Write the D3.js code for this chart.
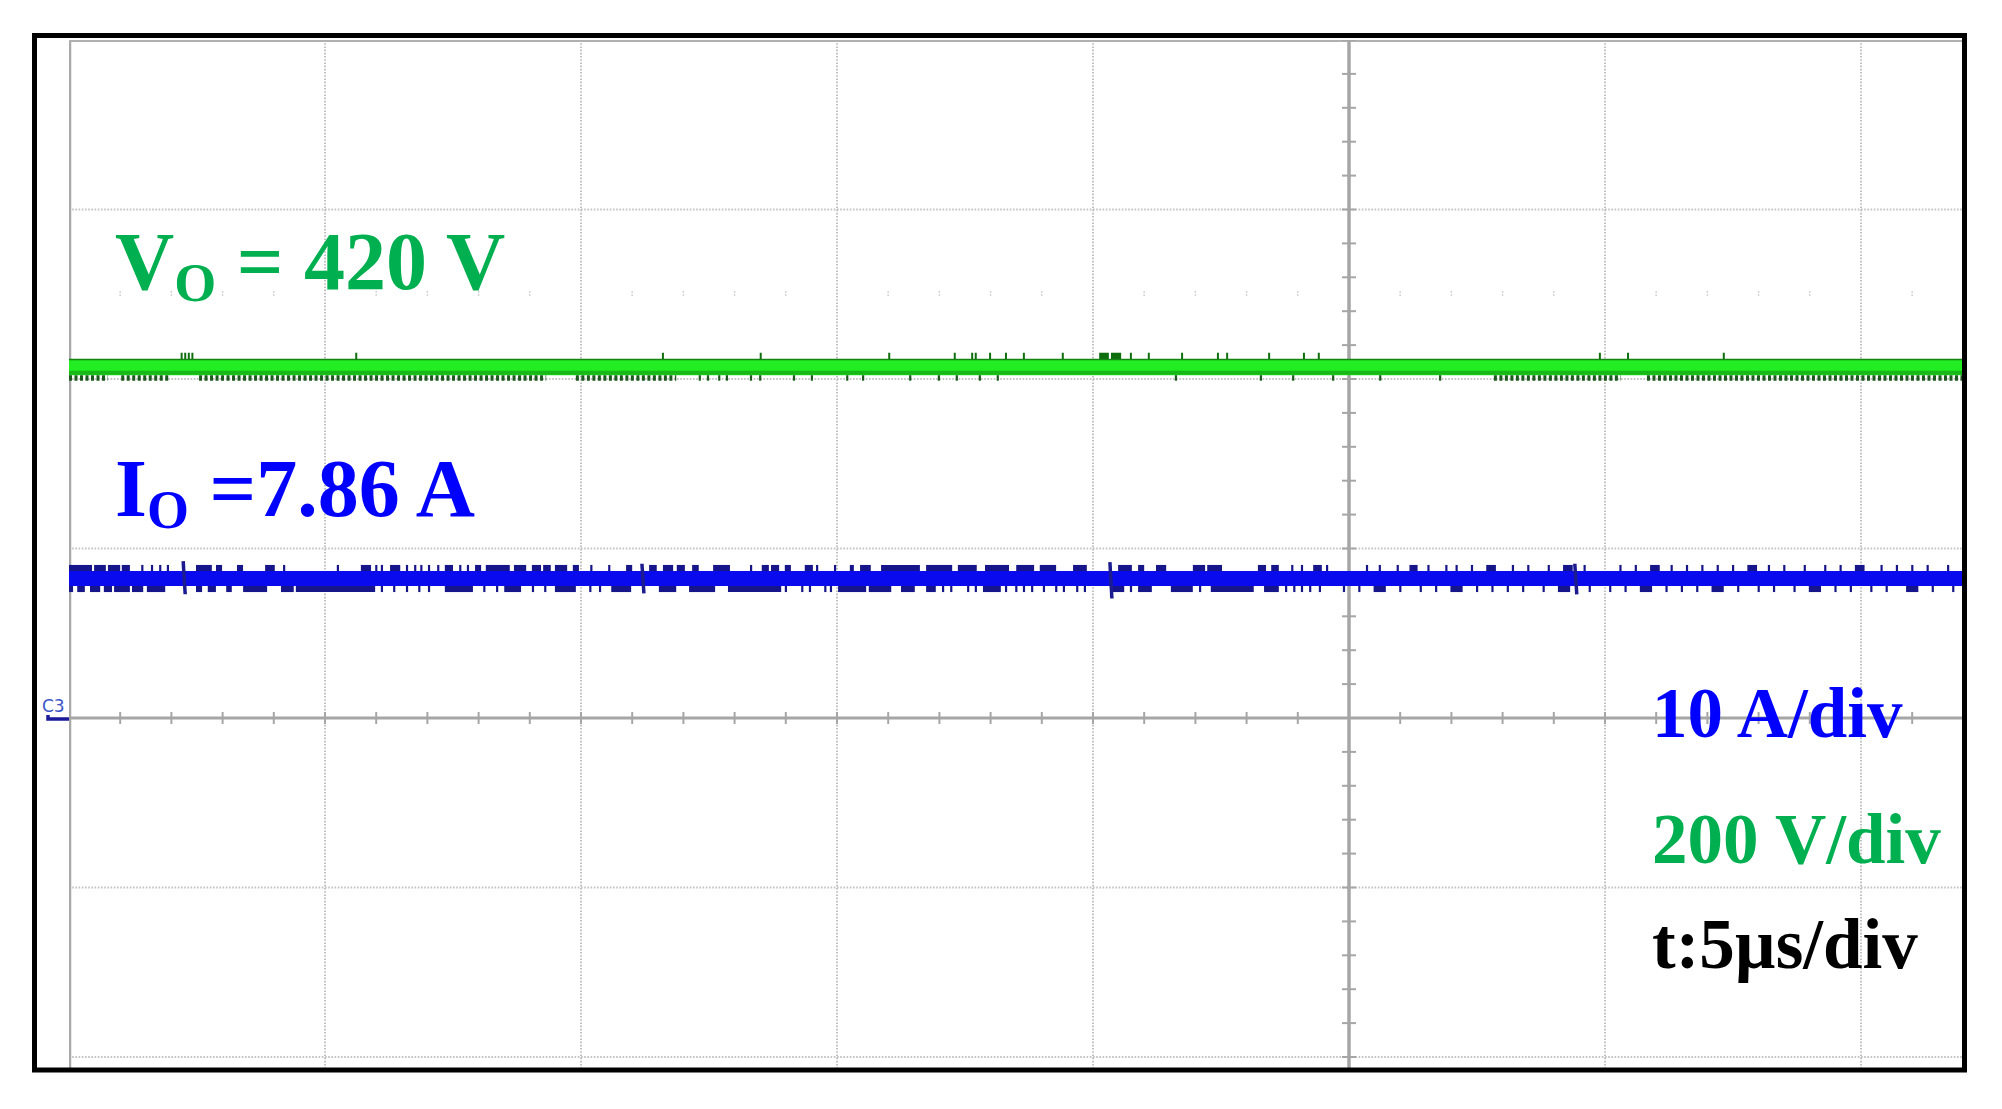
<!DOCTYPE html>
<html><head><meta charset="utf-8">
<script src="https://cdn.jsdelivr.net/npm/d3@7"></script>
<style>html,body{margin:0;padding:0;background:#fff;} svg{display:block;}</style>
</head><body>
<svg id="chart" width="2002" height="1109"></svg>
<script>
// ================= DATA =================
// Oscilloscope settings
const timePerDiv = 5;          // µs / div
const voltsPerDiv = 200;       // V / div (green channel)
const ampsPerDiv = 10;         // A / div (CH3, blue)
const timeDomain = [-25, 12];  // visible part of the record, µs
const divDomain = [-4, 4];     // vertical divisions of the screen

// Output voltage trace (green)
const voBand = [404.5, 423];          // V, core of the trace
const voSpikeLevel = 431;             // V, top of the noise spikes
const voTickLevel = 398;              // V, bottom of the noise ticks
const voSpikesUp = [-22.80, -22.73, -22.66, -22.59, -19.39, -13.40, -11.49, -8.98, -7.70, -7.36, -7.29,
  -7.01, -6.70, -6.35, -5.59, -4.26, -3.91, -3.26, -2.56, -2.38, -1.56, -0.88, -0.59, 4.90, 5.45, 7.32];
const voBlocksUp = [[-4.86, -4.71], [-4.63, -4.47]];
const voLowRows = [[-25, -24.24], [-23.98, -23.03], [-22.46, -15.68], [-15.10, -13.14], [2.83, 5.31], [5.82, 12]];
const voLowTicks = [-12.68, -12.52, -12.30, -12.15, -11.68, -11.50, -10.84, -10.49, -9.80, -9.49, -8.57,
  -8.01, -7.66, -7.21, -6.86, -3.38, -1.72, -1.09, -0.31, 0.61, 1.78];

// Output current trace (blue, CH3)
const ioBand = [7.79, 8.67];          // A, core of the trace
const ioUpLevel = 9.03;               // A
const ioLowLevel = 7.43;              // A
const ioUpSegs = [[-25, -24.57], [-24.49, -24.30], [-24.22, -24.02], [-23.95, -23.83], -23.57, -23.38, -23.22, -23.07,
  [-22.50, -22.23], [-22.11, -22.03], [-21.70, -21.62], [-21.15, -21.00], -20.80, -19.75, [-19.28, -19.12], -19.00, -18.89,
  [-18.71, -18.55], -18.40, -18.24, -18.12, -17.97, -17.79, [-17.64, -17.52], -17.36, -17.21, [-17.05, -16.97],
  [-16.84, -16.41], [-16.29, -16.09], [-15.94, -15.80], [-15.72, -15.61], [-15.49, -15.29], [-15.14, -15.06], -14.80,
  -14.45, [-14.10, -14.02], [-13.65, -13.54], [-13.38, -13.22], [-13.11, -12.99], [-12.81, -12.72], [-12.40, -12.11],
  -11.68, [-11.45, -11.35], [-11.27, -11.15], [-11.00, -10.92], [-10.61, -10.49], -10.39, -10.04, [-9.73, -9.69],
  [-9.53, -9.36], [-9.12, -8.40], [-8.24, -7.77], [-7.62, -7.29], [-7.09, -6.66], [-6.48, -6.17], [-6.02, -5.74],
  [-5.37, -5.14], [-4.49, -4.26], [-4.10, -4.02], [-3.75, -3.59], [-3.03, -2.83], [-2.75, -2.50], [-1.76, -1.64],
  [-1.50, -1.39], -1.11, -0.92, [-0.68, -0.55], -0.43, 0.35, 0.60, 0.95, [1.20, 1.32], 1.55, 1.90, 2.10, 2.40,
  [2.70, 2.85], 3.20, 3.50, 3.90, [4.20, 4.35], 4.60, 5.30, 5.60, [5.90, 6.05], 6.30, 6.60, 6.90, 7.20, 7.50,
  [7.80, 7.95], 8.20, 8.50, 8.90, 9.30, 9.60, [9.90, 10.05], 10.40, 10.70, 11.00, 11.30, 11.70];
const ioLowSegs = [[-24.98, -24.94], [-24.82, -24.71], [-24.57, -24.41], [-24.30, -24.18], [-24.10, -23.83],
  [-23.75, -23.57], [-23.46, -23.14], [-22.50, -22.42], [-22.27, -22.15], [-21.91, -21.84], [-21.58, -21.15],
  [-20.84, -20.63], [-20.55, -19.04], -18.89, -18.65, -18.40, -18.16, -17.97, [-17.64, -17.13], -16.89, -16.64,
  [-16.48, -16.19], -15.94, -15.70, [-15.49, -15.12], -14.82, -14.63, [-14.39, -14.04], [-13.46, -13.16],
  [-12.87, -12.40], [-12.11, -11.11], -11.00, -10.68, -10.53, -10.23, -10.12, [-9.96, -9.45], [-9.36, -8.96],
  [-8.73, -8.50], [-8.24, -8.09], -7.93, -7.77, -7.44, -7.29, [-7.13, -6.82], -6.70, -6.50, -6.35, -6.19, -5.96,
  -5.72, -5.57, -5.31, -5.16, [-4.59, -4.41], -4.26, [-4.10, -3.87], [-3.46, -3.07], -2.91, [-2.68, -1.88],
  [-1.64, -1.39], -1.23, -1.07, -0.92, -0.76, -0.57, -0.10, 0.20, [0.50, 0.70], 1.00, 1.40, 1.70, [2.00, 2.20],
  2.50, 2.80, 3.10, 3.40, 3.80, [4.10, 4.30], 4.70, 5.10, 5.40, [5.70, 5.90], 6.20, 6.50, 6.80, [7.10, 7.30], 7.60,
  8.00, 8.30, 8.70, [9.00, 9.20], 9.50, 9.80, 10.20, 10.50, [10.90, 11.10], 11.40, 11.80];
// switching events: [time µs, max A, min A]
const ioGlitches = [[-22.77, 9.25, 7.3], [-13.81, 9.1, 7.35], [-4.67, 9.2, 7.05], [4.41, 9.1, 7.3]];

// Annotation texts
const voLabel = ["V", "O", " = 420 V"];
const ioLabel = ["I", "O", " =7.86 A"];
const scaleLabels = ["10 A/div", "200 V/div", "t:5\u00B5s/div"];
const channelTag = "C3";

// ================= DRAW =================
const svg = d3.select("#chart");
const X0 = 69, DIVX = 256, Y0 = 718, DIVY = 169.5;
const x = d3.scaleLinear().domain([-5 * timePerDiv, 5 * timePerDiv]).range([X0, X0 + 10 * DIVX]);
const yDiv = d3.scaleLinear().domain(divDomain).range([Y0 + 4 * DIVY, Y0 - 4 * DIVY]);
const yV = d3.scaleLinear().domain(divDomain.map(d => d * voltsPerDiv)).range(yDiv.range());
const yI = d3.scaleLinear().domain(divDomain.map(d => d * ampsPerDiv)).range(yDiv.range());

const plotL = x(timeDomain[0]), plotR = 1963, plotT = yDiv(4), plotB = 1068;

svg.append("rect").attr("width", 2002).attr("height", 1109).attr("fill", "#fff");
svg.append("defs").append("clipPath").attr("id", "plot")
  .append("rect").attr("x", plotL).attr("y", plotT).attr("width", plotR - plotL).attr("height", plotB - plotT);

const g = svg.append("g").attr("clip-path", "url(#plot)");

// grid: dotted division lines
const vDivs = d3.range(-5, 6).map(d => d * timePerDiv).filter(t => t !== 0 && t > timeDomain[0]);
const hDivs = d3.range(-4, 5).filter(d => d !== 0 && d < 4);
g.selectAll("line.vg").data(vDivs).join("line")
  .attr("x1", d => x(d)).attr("x2", d => x(d)).attr("y1", plotT).attr("y2", plotB)
  .attr("stroke", "#c2c2c2").attr("stroke-width", 2).attr("stroke-dasharray", "1.6 1.6");
g.selectAll("line.hg").data(hDivs).join("line")
  .attr("y1", d => yDiv(d)).attr("y2", d => yDiv(d)).attr("x1", plotL).attr("x2", plotR)
  .attr("stroke", "#c2c2c2").attr("stroke-width", 2).attr("stroke-dasharray", "1.6 1.6");

// faint marker row at 2.5 div
const minorT = d3.range(timeDomain[0] + 1, timeDomain[1] + 0.01, 1);
g.selectAll("line.mr").data(minorT.filter(t => t % 5 !== 0)).join("line")
  .attr("x1", d => x(d)).attr("x2", d => x(d)).attr("y1", yDiv(2.5) - 3).attr("y2", yDiv(2.5) + 3)
  .attr("stroke", "#c8c8c8").attr("stroke-width", 1.5).attr("stroke-dasharray", "1.5 1.5");

// edges of the screen
g.append("line").attr("x1", plotL + 1).attr("x2", plotL + 1).attr("y1", plotT).attr("y2", plotB)
  .attr("stroke", "#a9a9a9").attr("stroke-width", 2.5);
g.append("line").attr("x1", plotL).attr("x2", plotR).attr("y1", plotT + 1).attr("y2", plotT + 1)
  .attr("stroke", "#b0b0b0").attr("stroke-width", 2);

// centre axes with minor ticks
g.append("line").attr("x1", plotL).attr("x2", plotR).attr("y1", Y0).attr("y2", Y0)
  .attr("stroke", "#a6a6a6").attr("stroke-width", 3);
g.append("line").attr("x1", x(0)).attr("x2", x(0)).attr("y1", plotT).attr("y2", plotB)
  .attr("stroke", "#a6a6a6").attr("stroke-width", 3.5);
g.selectAll("line.xt").data(minorT).join("line")
  .attr("x1", d => x(d)).attr("x2", d => x(d)).attr("y1", Y0 - 6).attr("y2", Y0 + 6)
  .attr("stroke", "#a6a6a6").attr("stroke-width", 2);
const minorDiv = d3.range(-4, 4.001, 0.2);
g.selectAll("line.yt").data(minorDiv).join("line")
  .attr("y1", d => yDiv(d)).attr("y2", d => yDiv(d)).attr("x1", x(0) - 7).attr("x2", x(0) + 7)
  .attr("stroke", "#a6a6a6").attr("stroke-width", 2);

// ---- helpers for traces ----
function drawTrace(yS, band, upLevel, lowLevel, upSegs, lowSegs, fill, dark) {
  const tr = g.append("g");
  const area = d3.area().x(d => x(d)).y0(yS(band[0])).y1(yS(band[1]));
  tr.append("path").datum(timeDomain).attr("d", area).attr("fill", fill);
  const one = s => Array.isArray(s) ? s : [s, s];
  const segPath = (lvl, edge) => s => {
    const [a, b] = one(s);
    const x0 = x(a) - 1, x1 = Math.max(x(b) + 1, x0 + 2.2);
    return `M${x0},${yS(edge)}L${x0},${yS(lvl)}L${x1},${yS(lvl)}L${x1},${yS(edge)}Z`;
  };
  tr.selectAll("path.up").data(upSegs).join("path").attr("class", "up")
    .attr("d", segPath(upLevel, band[1])).attr("fill", dark);
  tr.selectAll("path.lo").data(lowSegs).join("path").attr("class", "lo")
    .attr("d", segPath(lowLevel, band[0])).attr("fill", dark);
  return tr;
}

// green trace
const gTr = drawTrace(yV, voBand, voSpikeLevel, voTickLevel, voBlocksUp, [], "#22ec22", "#0e6e0e");
gTr.selectAll("line.sp").data(voSpikesUp).join("line")
  .attr("x1", d => x(d)).attr("x2", d => x(d)).attr("y1", yV(voBand[1])).attr("y2", yV(voSpikeLevel))
  .attr("stroke", "#0e6e0e").attr("stroke-width", 2);
gTr.selectAll("line.row").data(voLowRows).join("line")
  .attr("x1", d => x(d[0])).attr("x2", d => x(d[1]))
  .attr("y1", (yV(voBand[0]) + yV(voTickLevel)) / 2).attr("y2", (yV(voBand[0]) + yV(voTickLevel)) / 2)
  .attr("stroke", "#1d5a1d").attr("stroke-width", yV(voTickLevel) - yV(voBand[0]))
  .attr("stroke-dasharray", "3 2.5");
gTr.selectAll("line.lt").data(voLowTicks).join("line")
  .attr("x1", d => x(d)).attr("x2", d => x(d)).attr("y1", yV(voBand[0])).attr("y2", yV(voTickLevel))
  .attr("stroke", "#1d5a1d").attr("stroke-width", 2.2);
gTr.append("line").attr("x1", plotL).attr("x2", plotR).attr("y1", yV(voBand[1])).attr("y2", yV(voBand[1]))
  .attr("stroke", "#138313").attr("stroke-width", 1.5);
gTr.append("line").attr("x1", plotL).attr("x2", plotR).attr("y1", yV(voBand[0]) - 2.5).attr("y2", yV(voBand[0]) - 2.5)
  .attr("stroke", "#17b817").attr("stroke-width", 4);

// blue trace
const bTr = drawTrace(yI, ioBand, ioUpLevel, ioLowLevel, ioUpSegs, ioLowSegs, "#0a0aee", "#16168a");
bTr.selectAll("line.gl").data(ioGlitches).join("line")
  .attr("x1", d => x(d[0])).attr("x2", d => x(d[0]) + 2).attr("y1", d => yI(d[1])).attr("y2", d => yI(d[2]))
  .attr("stroke", "#1c1c90").attr("stroke-width", 3.5);

// ---- annotations ----
const serif = "'Liberation Serif','Times New Roman',serif";
function subLabel(lbl, px, py, color) {
  const t = svg.append("text").attr("x", px).attr("y", py).attr("font-family", serif)
    .attr("font-weight", "bold").attr("font-size", 82).attr("fill", color);
  t.append("tspan").text(lbl[0]);
  t.append("tspan").attr("font-size", 54).attr("dy", 12).text(lbl[1]);
  t.append("tspan").attr("dy", -12).text(lbl[2]);
}
subLabel(voLabel, 115, 289, "#00b050");
subLabel(ioLabel, 115, 516, "#0000ff");

const scaleColors = ["#0000ff", "#00b050", "#000000"];
const scaleY = [737, 863, 968];
svg.selectAll("text.sc").data(scaleLabels).join("text")
  .attr("x", 1652).attr("y", (d, i) => scaleY[i]).attr("font-family", serif).attr("font-weight", "bold")
  .attr("font-size", 71).attr("fill", (d, i) => scaleColors[i]).text(d => d);

// channel ground marker
svg.append("text").attr("x", 42).attr("y", 712).attr("font-family", "'DejaVu Sans',sans-serif")
  .attr("font-size", 17).attr("fill", "#3a55c8").text(channelTag);
svg.append("path").attr("d", `M48,${Y0 - 3}L48,${Y0 + 1}L${plotL},${Y0 + 1}`)
  .attr("fill", "none").attr("stroke", "#1a1a9a").attr("stroke-width", 3.5);

// outer frame
svg.append("rect").attr("x", 34.5).attr("y", 35.5).attr("width", 1930).attr("height", 1034.5)
  .attr("fill", "none").attr("stroke", "#000").attr("stroke-width", 5);
</script>
</body></html>
